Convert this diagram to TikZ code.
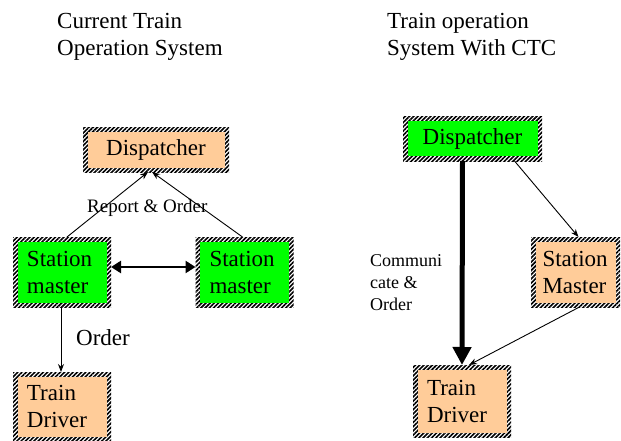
\documentclass[tikz,border=0pt]{standalone}
\usepackage{fontspec}
\setmainfont{Liberation Serif}
\usetikzlibrary{arrows.meta, positioning, patterns.meta}
\definecolor{Peach}{RGB}{255,204,153}
\definecolor{Lime}{RGB}{0,255,0}
\newcommand\boxfont{\fontsize{23}{27}\selectfont}

\begin{document}
\begin{tikzpicture}[x=1pt, y=-1pt, font=\boxfont,
  hb/.style={rectangle, inner sep=0pt, outer sep=0pt, minimum width=98pt, minimum height=70pt,
    text width=70pt, align=left,
    pattern={Lines[angle=45, distance=3pt, line width=1.6pt]},
    path picture={\fill[#1] ([shift={(4.5pt,4.5pt)}]path picture bounding box.south west)
      rectangle ([shift={(-4.5pt,-4.5pt)}]path picture bounding box.north east);}},
  wide/.style={minimum height=44pt, align=center},
  lbl/.style={inner sep=0pt, align=left},
  ar/.style={-{Stealth[length=8pt, width=6pt]}, line width=0.9pt},
  thk/.style={line width=2.6pt, {Triangle[length=10pt, width=12pt]}-{Triangle[length=10pt, width=12pt]}}]
\useasboundingbox (0,0) rectangle (621,441);

% headings
\node[lbl, anchor=north west] (t1) at (57,13) {Current Train\\Operation System};
\node[lbl, anchor=north west] (t2) at (387,13) {Train operation\\System With CTC};

% current system
\node[hb=Peach, wide, minimum width=146pt, text width=130pt] (dl) at (156,150) {Dispatcher};
\node[hb=Lime] (sml) at (62,272) {Station\\master};
\node[hb=Lime] (smr) at (244.5,272) {Station\\master};
\node[hb=Peach, minimum height=69pt] (tdl) at (62,406.5) {Train\\Driver};

\draw[ar] ([xshift=5pt]sml.north) -- ([xshift=-8pt]dl.south);
\draw[ar, {Stealth[length=8pt, width=6pt]}-] ([xshift=-4pt]dl.south) -- ([xshift=-2pt]smr.north);
\draw[thk] ([yshift=5pt]sml.east) -- ([yshift=5pt]smr.west);
\draw[ar] ([xshift=-1pt]sml.south) -- ([xshift=-1pt]tdl.north);
\node[lbl, font=\fontsize{19}{22}\selectfont, anchor=base west] (ro) at (87,212) {Report \& Order};
\node[lbl, anchor=base west] (ol) at (76,345) {Order};

% with CTC
\node[hb=Lime, wide, minimum width=139pt, text width=120pt] (dr) at (472.5,139) {Dispatcher};
\node[hb=Peach, minimum width=89pt, text width=66pt] (smc) at (575.5,272) {Station\\Master};
\node[hb=Peach, minimum height=72pt] (tdr) at (462,401) {Train\\Driver};

\draw[line width=5pt, -{Triangle[length=18pt, width=18pt]}] ([xshift=-10pt]dr.south) -- (tdr.north);
\draw[ar] ([xshift=42pt]dr.south) -- ([xshift=3pt]smc.north);
\draw[ar] ([xshift=4pt]smc.south) -- ([xshift=7pt]tdr.north);
\node[lbl, font=\fontsize{18}{22}\selectfont, anchor=north west] (co) at (370,254) {Communi\\cate \&\\Order};
\end{tikzpicture}
\end{document}
